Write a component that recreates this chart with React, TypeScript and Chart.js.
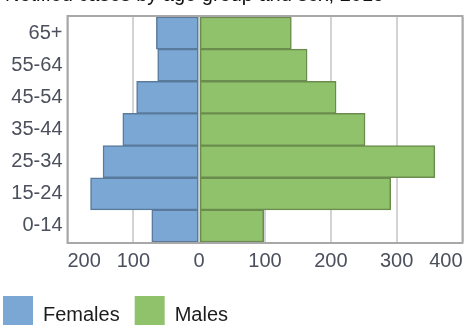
import React, { useEffect, useRef } from 'react';
import { Chart, registerables } from 'chart.js';

Chart.register(...registerables);

const TITLE = 'Notified cases by age group and sex, 2019';
const AGE_GROUPS = ['65+', '55-64', '45-54', '35-44', '25-34', '15-24', '0-14'];
const FEMALES = [65, 63, 95, 116, 146, 165, 72];
const MALES = [140, 164, 208, 252, 358, 291, 98];
const X_MIN = -200;
const X_MAX = 400;
const X_STEP = 100;

const FONT = '"Liberation Sans", Arial, Helvetica, sans-serif';

const framePlugin = {
  id: 'frame',
  beforeDatasetsDraw(chart: any) {
    const { ctx, chartArea: a } = chart;
    ctx.save();
    ctx.strokeStyle = '#a8a8a8';
    ctx.lineWidth = 2;
    ctx.strokeRect(a.left, a.top - 1, a.right - a.left, a.bottom - a.top + 2);
    ctx.restore();
  },
};

export default function App() {
  const ref = useRef<HTMLCanvasElement>(null);

  useEffect(() => {
    if (!ref.current) return;
    const chart = new Chart(ref.current, {
      type: 'bar',
      data: {
        labels: AGE_GROUPS,
        datasets: [
          {
            label: 'Females',
            data: FEMALES.map((v) => -v),
            backgroundColor: '#7ba7d4',
            borderColor: '#5a7a9c',
            borderWidth: 1.5,
            borderSkipped: false,
            categoryPercentage: 1,
            barPercentage: 1,
          },
          {
            label: 'Males',
            data: MALES,
            backgroundColor: '#90c26c',
            borderColor: '#6a8c4c',
            borderWidth: 1.5,
            borderSkipped: false,
            categoryPercentage: 1,
            barPercentage: 1,
          },
        ],
      },
      options: {
        indexAxis: 'y',
        responsive: false,
        devicePixelRatio: 1,
        animation: false,
        layout: { padding: { top: 15, right: 0, bottom: 0, left: 0 } },
        scales: {
          x: {
            stacked: true,
            min: X_MIN,
            max: X_MAX,
            grid: { color: '#d3d3d3', lineWidth: 2, drawTicks: false },
            border: { display: false },
            ticks: {
              stepSize: X_STEP,
              align: 'inner',
              padding: 7.5,
              color: '#4b505c',
              font: { family: FONT, size: 20 },
              callback: (v: any) => String(Math.abs(Number(v))),
            },
          },
          y: {
            stacked: true,
            grid: { display: false, drawTicks: false },
            border: { display: false },
            ticks: {
              padding: 5,
              color: '#4b505c',
              font: { family: FONT, size: 20 },
            },
            afterFit: (scale: any) => {
              scale.width = 79.5;
            },
          },
        },
        plugins: {
          title: { display: false },
          tooltip: { enabled: false },
          legend: {
            position: 'bottom',
            align: 'start',
            labels: {
              boxWidth: 30,
              boxHeight: 38,
              padding: 15,
              color: '#1c1c1c',
              font: { family: FONT, size: 20 },
              generateLabels: (c: any) =>
                Chart.defaults.plugins.legend.labels.generateLabels(c).map((it: any) => ({
                  ...it,
                  lineWidth: 0,
                  strokeStyle: 'rgba(0,0,0,0)',
                })),
            },
          },
        },
      },
      plugins: [framePlugin],
    } as any);
    return () => chart.destroy();
  }, []);

  return (
    <div
      style={{
        position: 'fixed',
        left: 0,
        top: 0,
        width: 464,
        height: 325,
        overflow: 'hidden',
        background: '#fff',
      }}
    >
      <canvas
        ref={ref}
        width={482}
        height={344}
        style={{ position: 'absolute', left: -12, top: 0, width: 482, height: 344 }}
      />
      <div
        style={{
          position: 'absolute',
          left: 5,
          top: -18,
          fontFamily: FONT,
          fontSize: 20,
          lineHeight: '24px',
          color: '#111',
          whiteSpace: 'nowrap',
        }}
      >
        {TITLE}
      </div>
    </div>
  );
}
